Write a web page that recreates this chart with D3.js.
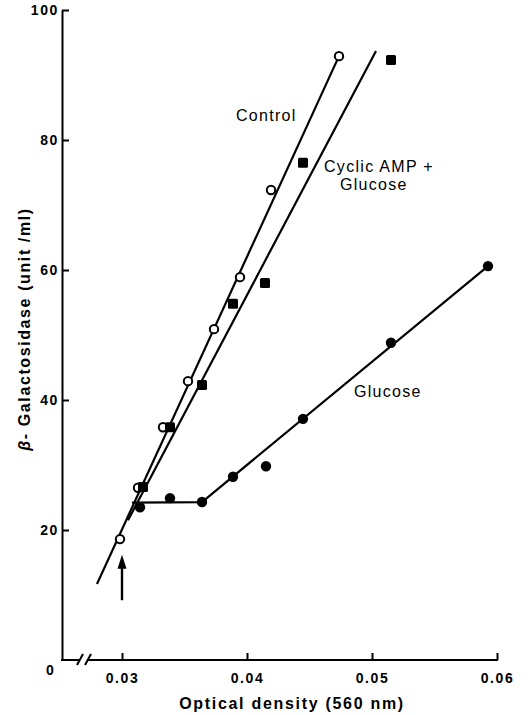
<!DOCTYPE html>
<html>
<head>
<meta charset="utf-8">
<script src="https://cdn.jsdelivr.net/npm/d3@7"></script>
<style>
  body { margin: 0; background: #fff; }
  svg { display: block; }
  text { font-family: "Liberation Sans", Arial, sans-serif; fill: #000; }
</style>
</head>
<body>
<svg id="chart" width="532" height="715"></svg>
<script>
// data: [optical density, units/ml]
var control = [[0.02984, 18.6], [0.03128, 26.5], [0.03328, 35.8], [0.03528, 42.9],
               [0.03736, 50.9], [0.03944, 58.9], [0.04192, 72.3], [0.04736, 92.9]];
var campGlucose = [[0.03168, 26.6], [0.03384, 35.8], [0.0364, 42.3], [0.03888, 54.8],
                   [0.04144, 58.0], [0.04448, 76.5], [0.05152, 92.3]];
var glucose = [[0.03144, 23.5], [0.03384, 24.9], [0.0364, 24.3], [0.03888, 28.2],
               [0.04152, 29.8], [0.04448, 37.1], [0.05152, 48.8], [0.05928, 60.6]];

// fitted lines as drawn
var controlLine = [[0.0280, 11.7], [0.04736, 92.9]];
var campLine = [[0.03048, 21.5], [0.05032, 93.7]];
var glucoseLine = [[0.03080, 24.2], [0.0364, 24.3], [0.05928, 60.6]];

// arrow marking the addition time
var arrow = {od: 0.03, from: 9.2, to: 16.2};

var xTicks = [0.03, 0.04, 0.05, 0.06];
var yTicks = [20, 40, 60, 80, 100];

var svg = d3.select("#chart");

var x = d3.scaleLinear().domain([0.03, 0.06]).range([122, 497]);
var y = d3.scaleLinear().domain([0, 100]).range([660, 10]);

var x0 = 62; // left end of the axis (the "0" side of the break)

function tickFont(sel) {
  sel.style("font-size", "14px").style("font-weight", "bold")
     .style("letter-spacing", "1.6px")
     .style("font-family", "'Liberation Sans', Arial, sans-serif");
}

// y axis
var yAxis = svg.append("g")
    .attr("transform", "translate(" + x0 + ",0)")
    .call(d3.axisLeft(y).tickValues(yTicks).tickSize(-7).tickSizeOuter(0).tickPadding(3));
yAxis.select(".domain").attr("stroke-width", 2);
yAxis.selectAll(".tick line").attr("stroke-width", 2);
yAxis.selectAll("text").call(tickFont);

// x axis, with a break near the origin
var xAxis = svg.append("g")
    .attr("transform", "translate(0," + y(0) + ")")
    .call(d3.axisBottom(x).tickValues(xTicks).tickSize(-7).tickPadding(13)
      .tickFormat(d3.format(".2f")));
xAxis.select(".domain").remove();
xAxis.selectAll(".tick line").attr("stroke-width", 2);
xAxis.selectAll("text").call(tickFont);

var ax = svg.append("g").attr("stroke", "#000").attr("stroke-width", 2).attr("fill", "none");
ax.append("line").attr("x1", x0 - 1).attr("x2", 80).attr("y1", y(0)).attr("y2", y(0));
ax.append("line").attr("x1", 88).attr("x2", x(0.06) + 1).attr("y1", y(0)).attr("y2", y(0));
ax.append("line").attr("x1", 77).attr("x2", 83).attr("y1", y(0) + 5).attr("y2", y(0) - 6);
ax.append("line").attr("x1", 85).attr("x2", 91).attr("y1", y(0) + 5).attr("y2", y(0) - 6);

svg.append("text").attr("x", 50).attr("y", 675)
    .attr("text-anchor", "middle")
    .style("font-size", "14px").style("font-weight", "bold").text("0");

// axis titles
svg.append("text")
    .attr("x", 292).attr("y", 709)
    .attr("text-anchor", "middle")
    .style("font-size", "16px").style("font-weight", "bold")
    .style("letter-spacing", "1.7px")
    .text("Optical density (560 nm)");

svg.append("text")
    .attr("transform", "translate(30,329) rotate(-90)")
    .attr("text-anchor", "middle")
    .style("font-size", "16px").style("font-weight", "bold")
    .style("letter-spacing", "1.6px")
    .html("<tspan font-style='italic'>β</tspan>- Galactosidase (unit /ml)");

// lines
var line = d3.line().x(function(d) { return x(d[0]); }).y(function(d) { return y(d[1]); });
var lines = svg.append("g").attr("fill", "none").attr("stroke", "#000")
    .attr("stroke-width", 2.2).attr("stroke-linejoin", "round");
[controlLine, campLine, glucoseLine].forEach(function(l) {
  lines.append("path").attr("d", line(l));
});

// markers
svg.selectAll("circle.control")
    .data(control)
  .enter().append("circle")
    .attr("class", "control")
    .attr("cx", function(d) { return x(d[0]); })
    .attr("cy", function(d) { return y(d[1]); })
    .attr("r", 4.2)
    .attr("fill", "#fff").attr("stroke", "#000").attr("stroke-width", 2);

svg.selectAll("rect.camp")
    .data(campGlucose)
  .enter().append("rect")
    .attr("class", "camp")
    .attr("x", function(d) { return x(d[0]) - 5; })
    .attr("y", function(d) { return y(d[1]) - 5; })
    .attr("width", 10).attr("height", 10)
    .attr("rx", 1.5)
    .attr("fill", "#000");

svg.selectAll("circle.glucose")
    .data(glucose)
  .enter().append("circle")
    .attr("class", "glucose")
    .attr("cx", function(d) { return x(d[0]); })
    .attr("cy", function(d) { return y(d[1]); })
    .attr("r", 5.2)
    .attr("fill", "#000");

// arrow
svg.append("line")
    .attr("x1", x(arrow.od)).attr("x2", x(arrow.od))
    .attr("y1", y(arrow.from)).attr("y2", y(arrow.to) + 8)
    .attr("stroke", "#000").attr("stroke-width", 2.4);
svg.append("path")
    .attr("d", "M" + x(arrow.od) + "," + y(arrow.to) +
               "l-4.5,14l9,0z")
    .attr("fill", "#000");

// series labels
function label(t, px, py) {
  svg.append("text").attr("x", px).attr("y", py)
      .style("font-size", "16px").style("letter-spacing", "1.3px").text(t);
}
label("Control", 236, 121);
label("Cyclic AMP +", 324, 172);
label("Glucose", 340, 190);
label("Glucose", 354, 397);
</script>
</body>
</html>
